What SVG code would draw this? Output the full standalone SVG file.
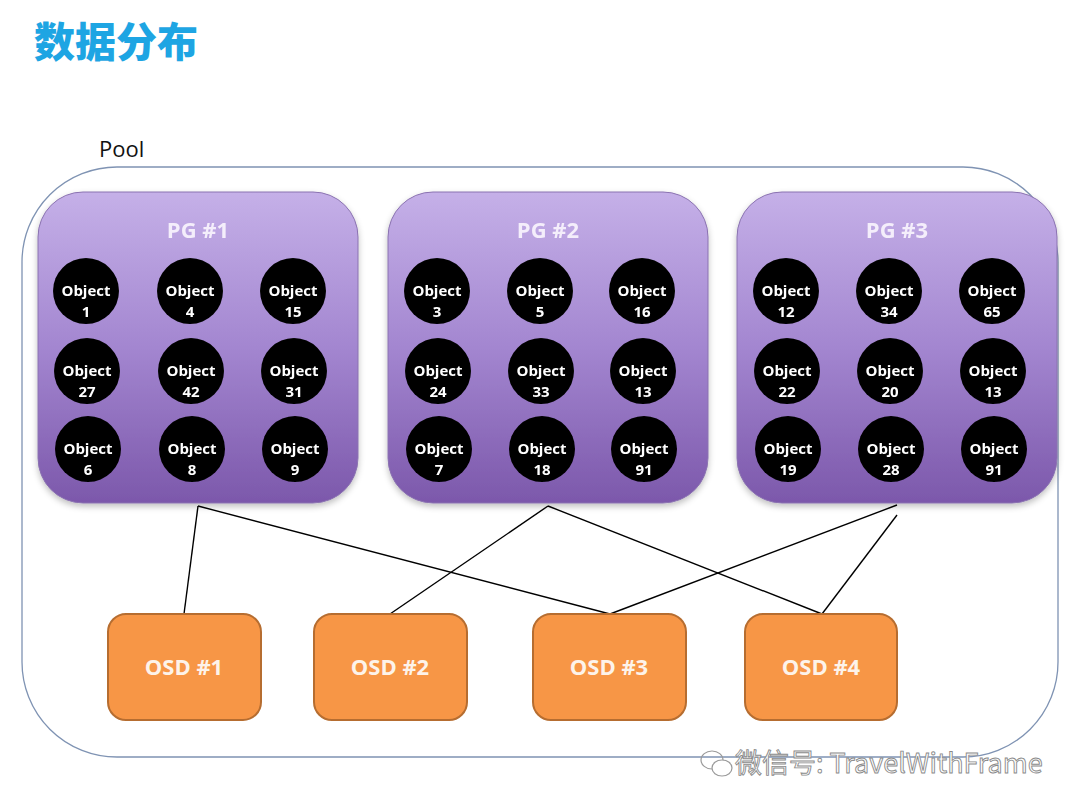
<svg xmlns="http://www.w3.org/2000/svg" width="1080" height="810" viewBox="0 0 1080 810">
<defs>
<linearGradient id="pgGrad" x1="0" y1="0" x2="0" y2="1">
<stop offset="0" stop-color="#c5b0e8"/>
<stop offset="0.5" stop-color="#a386d0"/>
<stop offset="1" stop-color="#7c58ab"/>
</linearGradient>
<filter id="sh" x="-10%" y="-10%" width="120%" height="125%">
<feGaussianBlur in="SourceAlpha" stdDeviation="3"/>
<feOffset dx="0" dy="3" result="b"/>
<feFlood flood-color="#000" flood-opacity="0.25"/>
<feComposite in2="b" operator="in"/>
<feMerge><feMergeNode/><feMergeNode in="SourceGraphic"/></feMerge>
</filter>
</defs>
<style>
.title{font-family:"Noto Sans CJK SC","Noto Sans",sans-serif;font-weight:900;font-size:41px;fill:#1ea5e3}
.pool{fill:#fff;stroke:#7f93b3;stroke-width:1.3}
.pg{fill:url(#pgGrad);stroke:#8a72b0;stroke-width:1}
.pgt{font-family:"Open Sans","Liberation Sans",sans-serif;font-weight:700;font-size:22px;fill:#f4eefb;text-anchor:middle}
.obj{fill:#000}
.ot{font-family:"Open Sans","Liberation Sans",sans-serif;font-weight:700;font-size:15px;fill:#fff;text-anchor:middle}
.osd{fill:#f79646;stroke:#b66d30;stroke-width:2}
.osdt{font-family:"Open Sans","Liberation Sans",sans-serif;font-weight:700;font-size:22px;fill:#fdf3ea;text-anchor:middle}
.conn line{stroke:#000;stroke-width:1.4}
.wm{font-family:"Noto Sans CJK SC","Liberation Sans",sans-serif;font-size:27px;fill:#fff;stroke:#8a8a8a;stroke-width:0.9}
</style>
<text class="title" x="34" y="57">数据分布</text>
<text x="99" y="157" font-family="Open Sans, Liberation Sans, sans-serif" font-size="22" fill="#111">Pool</text>
<rect id="pool" class="pool" x="22" y="167" width="1036" height="590" rx="95" ry="95"/>

<g id="pg1" filter="url(#sh)">
<rect class="pg" x="38" y="192" width="320" height="311" rx="45"/>
<text class="pgt" x="198" y="238">PG #1</text>
<circle class="obj" cx="86" cy="291" r="33"/><text class="ot" x="86" y="296">Object</text><text class="ot" x="86" y="317">1</text>
<circle class="obj" cx="190" cy="291" r="33"/><text class="ot" x="190" y="296">Object</text><text class="ot" x="190" y="317">4</text>
<circle class="obj" cx="293" cy="291" r="33"/><text class="ot" x="293" y="296">Object</text><text class="ot" x="293" y="317">15</text>
<circle class="obj" cx="87" cy="371" r="33"/><text class="ot" x="87" y="376">Object</text><text class="ot" x="87" y="397">27</text>
<circle class="obj" cx="191" cy="371" r="33"/><text class="ot" x="191" y="376">Object</text><text class="ot" x="191" y="397">42</text>
<circle class="obj" cx="294" cy="371" r="33"/><text class="ot" x="294" y="376">Object</text><text class="ot" x="294" y="397">31</text>
<circle class="obj" cx="88" cy="449" r="33"/><text class="ot" x="88" y="454">Object</text><text class="ot" x="88" y="475">6</text>
<circle class="obj" cx="192" cy="449" r="33"/><text class="ot" x="192" y="454">Object</text><text class="ot" x="192" y="475">8</text>
<circle class="obj" cx="295" cy="449" r="33"/><text class="ot" x="295" y="454">Object</text><text class="ot" x="295" y="475">9</text>
</g>

<g id="pg2" filter="url(#sh)">
<rect class="pg" x="388" y="192" width="320" height="311" rx="45"/>
<text class="pgt" x="548" y="238">PG #2</text>
<circle class="obj" cx="437" cy="291" r="33"/><text class="ot" x="437" y="296">Object</text><text class="ot" x="437" y="317">3</text>
<circle class="obj" cx="540" cy="291" r="33"/><text class="ot" x="540" y="296">Object</text><text class="ot" x="540" y="317">5</text>
<circle class="obj" cx="642" cy="291" r="33"/><text class="ot" x="642" y="296">Object</text><text class="ot" x="642" y="317">16</text>
<circle class="obj" cx="438" cy="371" r="33"/><text class="ot" x="438" y="376">Object</text><text class="ot" x="438" y="397">24</text>
<circle class="obj" cx="541" cy="371" r="33"/><text class="ot" x="541" y="376">Object</text><text class="ot" x="541" y="397">33</text>
<circle class="obj" cx="643" cy="371" r="33"/><text class="ot" x="643" y="376">Object</text><text class="ot" x="643" y="397">13</text>
<circle class="obj" cx="439" cy="449" r="33"/><text class="ot" x="439" y="454">Object</text><text class="ot" x="439" y="475">7</text>
<circle class="obj" cx="542" cy="449" r="33"/><text class="ot" x="542" y="454">Object</text><text class="ot" x="542" y="475">18</text>
<circle class="obj" cx="644" cy="449" r="33"/><text class="ot" x="644" y="454">Object</text><text class="ot" x="644" y="475">91</text>
</g>

<g id="pg3" filter="url(#sh)">
<rect class="pg" x="737" y="192" width="320" height="311" rx="45"/>
<text class="pgt" x="897" y="238">PG #3</text>
<circle class="obj" cx="786" cy="291" r="33"/><text class="ot" x="786" y="296">Object</text><text class="ot" x="786" y="317">12</text>
<circle class="obj" cx="889" cy="291" r="33"/><text class="ot" x="889" y="296">Object</text><text class="ot" x="889" y="317">34</text>
<circle class="obj" cx="992" cy="291" r="33"/><text class="ot" x="992" y="296">Object</text><text class="ot" x="992" y="317">65</text>
<circle class="obj" cx="787" cy="371" r="33"/><text class="ot" x="787" y="376">Object</text><text class="ot" x="787" y="397">22</text>
<circle class="obj" cx="890" cy="371" r="33"/><text class="ot" x="890" y="376">Object</text><text class="ot" x="890" y="397">20</text>
<circle class="obj" cx="993" cy="371" r="33"/><text class="ot" x="993" y="376">Object</text><text class="ot" x="993" y="397">13</text>
<circle class="obj" cx="788" cy="449" r="33"/><text class="ot" x="788" y="454">Object</text><text class="ot" x="788" y="475">19</text>
<circle class="obj" cx="891" cy="449" r="33"/><text class="ot" x="891" y="454">Object</text><text class="ot" x="891" y="475">28</text>
<circle class="obj" cx="994" cy="449" r="33"/><text class="ot" x="994" y="454">Object</text><text class="ot" x="994" y="475">91</text>
</g>

<g id="connectors" class="conn">
<line x1="198" y1="506" x2="184" y2="614"/>
<line x1="198" y1="506" x2="610" y2="614"/>
<line x1="548" y1="506" x2="390" y2="614"/>
<line x1="548" y1="506" x2="822" y2="614"/>
<line x1="897" y1="505" x2="610" y2="614"/>
<line x1="897" y1="515" x2="822" y2="614"/>
</g>

<g id="osd1"><rect class="osd" x="108" y="614" width="153" height="106" rx="18"/><text class="osdt" x="184" y="675">OSD #1</text></g>
<g id="osd2"><rect class="osd" x="314" y="614" width="153" height="106" rx="18"/><text class="osdt" x="390" y="675">OSD #2</text></g>
<g id="osd3"><rect class="osd" x="533" y="614" width="153" height="106" rx="18"/><text class="osdt" x="609" y="675">OSD #3</text></g>
<g id="osd4"><rect class="osd" x="745" y="614" width="152" height="106" rx="18"/><text class="osdt" x="821" y="675">OSD #4</text></g>

<g id="watermark" fill="none" stroke="#9a9a9a" stroke-width="1.2">
<ellipse cx="712" cy="760" rx="11" ry="9"/>
<ellipse cx="722" cy="768" rx="10" ry="8" fill="#fff"/>
</g>
<text class="wm" x="735" y="773">微信号: TravelWithFrame</text>
</svg>
